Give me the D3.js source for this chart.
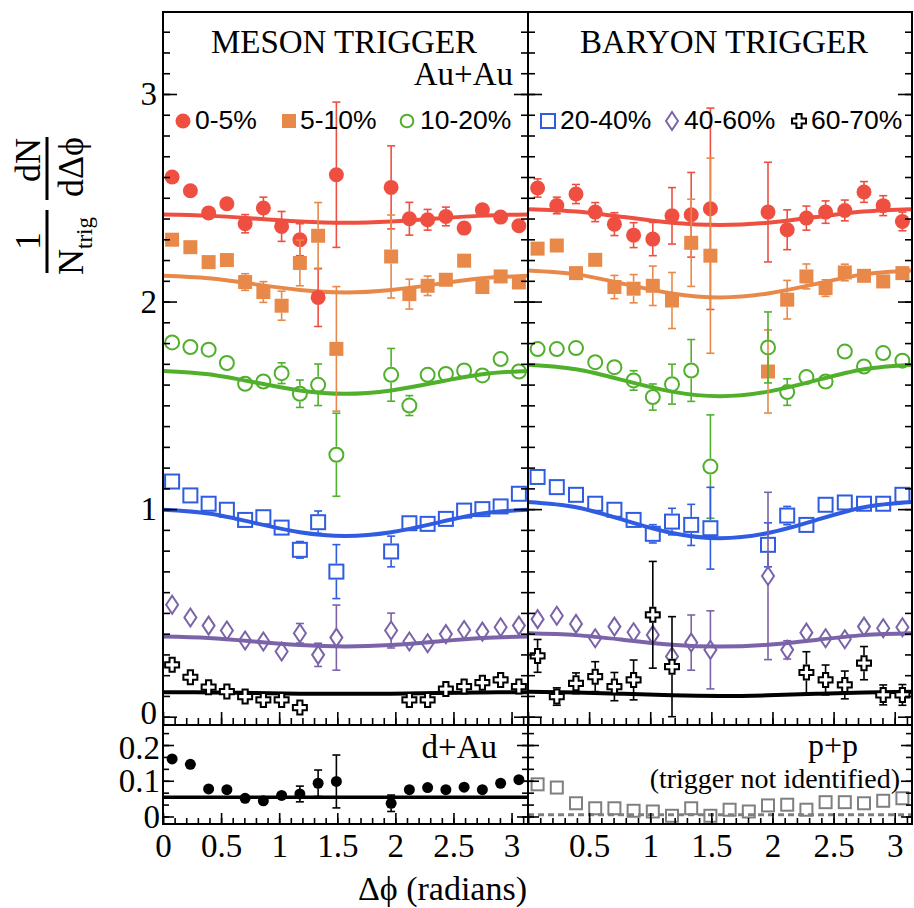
<!DOCTYPE html>
<html><head><meta charset="utf-8">
<script src="https://cdn.jsdelivr.net/npm/d3@7"></script>
<style>body{margin:0;background:#fff}</style>
</head><body><script>
// ---------------- DATA ----------------
const binCenters = [0.0785,0.2356,0.3927,0.5498,0.7069,0.8639,1.0210,1.1781,1.3352,1.4923,1.6493,1.8064,1.9635,2.1206,2.2777,2.4347,2.5918,2.7489,2.9060,3.0631];
const fitX = [0,0.3927,0.7854,1.1781,1.5708,1.9635,2.3562,2.7489,3.1416];

// MESON TRIGGER (Au+Au)
const m05   = [2.600,2.534,2.427,2.471,2.375,2.451,2.362,2.298,2.020,2.611,null,null,2.550,2.399,2.394,2.410,2.354,2.442,2.407,2.365];
const m05e  = [0,0,0,0,0.044,0.052,0.072,0.077,0.14,0.35,null,null,0.2,0.079,0.05,0.045,0,0,0,0];
const m510  = [2.298,2.262,2.190,2.200,2.094,2.046,1.980,2.186,2.317,1.772,null,null,2.217,2.036,2.076,2.105,2.197,2.070,2.121,2.092];
const m510e = [0,0,0,0,0.04,0.05,0.07,0.11,0.16,0.30,null,null,0.2,0.072,0.047,0.02,0,0,0,0];
const m1020 = [1.803,1.781,1.768,1.704,1.604,1.615,1.655,1.556,1.599,1.262,null,null,1.647,1.499,1.647,1.651,1.668,1.644,1.723,1.663];
const m1020e= [0,0,0,0,0,0,0.05,0.066,0.1,0.2,null,null,0.127,0.048,0,0,0,0,0,0];
const m2040 = [1.133,1.066,1.026,0.997,0.948,0.961,0.911,0.804,0.937,0.699,null,null,0.796,0.932,0.929,0.953,0.993,1.000,1.013,1.074];
const m2040e= [0,0,0,0,0,0,0,0.04,0.054,0.13,null,null,0.074,0,0,0,0,0,0,0];
const m4060 = [0.539,0.478,0.439,0.415,0.367,0.362,0.314,0.402,0.298,0.381,null,null,0.415,0.362,0.354,0.398,0.418,0.410,0.431,0.439];
const m4060e= [0,0,0,0,0,0,0,0.047,0.056,0.157,null,null,0.084,0,0,0,0,0,0,0];
const m6070 = [0.250,0.190,0.142,0.121,0.097,0.081,0.081,0.044,null,null,null,null,null,0.081,0.081,0.133,0.145,0.164,0.177,0.145];
const m6070e= [0,0,0,0,0,0,0,0,null,null,null,null,null,0,0,0,0,0,0,0];
const mFit05   = [2.420,2.414,2.400,2.386,2.380,2.386,2.400,2.414,2.420];
const mFit510  = [2.124,2.112,2.084,2.056,2.044,2.056,2.084,2.112,2.124];
const mFit1020 = [1.666,1.650,1.611,1.572,1.556,1.572,1.611,1.650,1.666];
const mFit2040 = [0.997,0.979,0.934,0.889,0.871,0.889,0.934,0.979,0.997];
const mFit4060 = [0.386,0.379,0.362,0.345,0.338,0.345,0.362,0.379,0.386];
const mFit6070 = [0.118,0.117,0.114,0.111,0.110,0.111,0.114,0.117,0.118];

// BARYON TRIGGER (Au+Au)
const b05   = [2.547,2.463,2.518,2.431,2.373,2.320,2.301,2.413,2.418,2.447,null,null,2.431,2.346,2.402,2.431,2.439,2.528,2.462,2.386];
const b05e  = [0.044,0.04,0.046,0.046,0.055,0.06,0.08,0.136,0.204,0.485,null,null,0.24,0.096,0.058,0.054,0.05,0.05,0.048,0.045];
const b510  = [2.255,2.270,2.137,2.201,2.070,2.062,2.076,2.005,2.283,2.221,null,null,1.663,2.009,2.121,2.065,2.140,2.124,2.097,2.137];
const b510e = [0.02,0.02,0.03,0.03,0.056,0.068,0.095,0.135,0.21,0.47,null,null,0.2,0.093,0.06,0.04,0.04,0.03,0.03,0.03];
const b1020 = [1.771,1.771,1.776,1.708,1.684,1.620,1.540,1.602,1.668,1.205,null,null,1.779,1.564,1.636,1.615,1.759,1.687,1.752,1.715];
const b1020e= [0,0,0,0,0,0.047,0.063,0.096,0.149,0.249,null,null,0.171,0.064,0.02,0,0,0,0,0];
const b2040 = [1.155,1.106,1.069,1.026,0.997,0.948,0.881,0.940,0.924,0.908,null,null,0.828,0.969,0.924,1.021,1.032,1.026,1.026,1.069];
const b2040e= [0,0,0,0,0,0,0.044,0.064,0.099,0.197,null,null,0.106,0.044,0,0,0,0,0,0];
const b4060 = [0.470,0.486,0.447,0.378,0.434,0.407,0.394,0.290,0.357,0.322,null,null,0.678,0.322,0.405,0.378,0.373,0.434,0.426,0.431];
const b4060e= [0,0,0,0,0,0,0,0,0.133,0.188,null,null,0.403,0.044,0,0,0,0,0,0];
const b6070 = [0.293,0.097,0.161,0.193,0.145,0.177,0.491,0.241,null,null,null,null,null,null,0.213,0.177,0.153,0.258,0.105,0.105];
const b6070e= [0.079,0.042,0.05,0.072,0.068,0.096,0.257,0.241,null,null,null,null,null,null,0.1,0.072,0.067,0.08,0.048,0.05];
const bFit05   = [2.445,2.434,2.407,2.380,2.369,2.380,2.407,2.434,2.445];
const bFit510  = [2.150,2.131,2.085,2.039,2.020,2.039,2.085,2.131,2.150];
const bFit1020 = [1.696,1.674,1.620,1.566,1.544,1.566,1.620,1.674,1.696];
const bFit2040 = [1.034,1.009,0.947,0.885,0.860,0.885,0.947,1.009,1.034];
const bFit4060 = [0.402,0.393,0.370,0.347,0.338,0.347,0.370,0.393,0.402];
const bFit6070 = [0.120,0.117,0.110,0.103,0.100,0.103,0.110,0.117,0.120];

// d+Au and p+p
const dAu    = [0.161,0.146,0.077,0.075,0.051,0.044,0.059,0.063,0.093,0.098,null,null,0.037,0.075,0.081,0.075,0.082,0.075,0.093,0.103];
const dAuErr = [0,0,0,0,0,0,0,0.022,0.037,0.074,null,null,0.023,0,0,0,0,0,0,0];
const dAuFitX = [0, 3.1416];
const dAuFit  = [0.054, 0.054];
const pp     = [0.090,0.081,0.037,0.023,0.023,0.016,0.014,0.002,0.023,0.002,0.019,0.014,0.031,0.033,0.019,0.040,0.040,0.037,0.044,0.051];
const ppFitX = [0, 3.1416];
const ppFit  = [0.005, 0.005];

const centralities = ["0-5%","5-10%","10-20%","20-40%","40-60%","60-70%"];
const xTickLabels = [0,0.5,1,1.5,2,2.5,3];
const yTopTickLabels = [0,1,2,3];
const yBotTickLabels = [0,0.1,0.2];

// ---------------- STYLE ----------------
const RED="#ee4f40", ORANGE="#e8894a", GREEN="#50b02c", BLUE="#2f5ce0", PURPLE="#7a63a8", BLACK="#000", GREY="#7f7f7f";
const colors=[RED,ORANGE,GREEN,BLUE,PURPLE,BLACK];
const markers=["circle","square","ocircle","osquare","diamond","cross"];
const SERIF="'Liberation Serif','Times New Roman',serif";
const SANS="'Liberation Sans',Arial,Helvetica,sans-serif";

const W=914,H=908;
const svg=d3.select("body").append("svg").attr("width",W).attr("height",H).style("display","block");
svg.append("rect").attr("width",W).attr("height",H).attr("fill","#fff");

const PL=163, PM=528, PR=912, PT=12, PB=725, PBB=824;
const xL=d3.scaleLinear().domain([0,Math.PI]).range([PL,PM]);
const xR=d3.scaleLinear().domain([0,Math.PI]).range([PM,PR]);
const yT=d3.scaleLinear().domain([-0.04,3.395]).range([PB,PT]);
const yB=d3.scaleLinear().domain([-0.021,0.256]).range([PBB,PB]);

const mesonSeries=[[m05,m05e,mFit05],[m510,m510e,mFit510],[m1020,m1020e,mFit1020],[m2040,m2040e,mFit2040],[m4060,m4060e,mFit4060],[m6070,m6070e,mFit6070]];
const baryonSeries=[[b05,b05e,bFit05],[b510,b510e,bFit510],[b1020,b1020e,bFit1020],[b2040,b2040e,bFit2040],[b4060,b4060e,bFit4060],[b6070,b6070e,bFit6070]];

function drawMarker(g,type,color,cx,cy,scale=1){
  let el;
  if(type==="circle"){ el=g.append("circle").attr("r",7.5*scale).attr("fill",color); }
  else if(type==="square"){ const s=14*scale; el=g.append("rect").attr("x",-s/2).attr("y",-s/2).attr("width",s).attr("height",s).attr("fill",color); }
  else if(type==="ocircle"){ el=g.append("circle").attr("r",7*scale).attr("fill","none").attr("stroke",color).attr("stroke-width",2); }
  else if(type==="osquare"){ const s=14*scale; el=g.append("rect").attr("x",-s/2).attr("y",-s/2).attr("width",s).attr("height",s).attr("fill","none").attr("stroke",color).attr("stroke-width",2); }
  else if(type==="diamond"){ const w=6*scale,h=9*scale; el=g.append("path").attr("d",`M0,${-h}L${w},0L0,${h}L${-w},0Z`).attr("fill","none").attr("stroke",color).attr("stroke-width",2); }
  else if(type==="cross"){ const a=2.6*scale,h=7*scale; el=g.append("path").attr("d",`M${-a},${-h}L${a},${-h}L${a},${-a}L${h},${-a}L${h},${a}L${a},${a}L${a},${h}L${-a},${h}L${-a},${a}L${-h},${a}L${-h},${-a}L${-a},${-a}Z`).attr("fill","#fff").attr("stroke",color).attr("stroke-width",2); }
  else if(type==="dot"){ el=g.append("circle").attr("r",5.5*scale).attr("fill",color); }
  else if(type==="gsquare"){ const s=12*scale; el=g.append("rect").attr("x",-s/2).attr("y",-s/2).attr("width",s).attr("height",s).attr("fill","none").attr("stroke",color).attr("stroke-width",2); }
  el.attr("transform",`translate(${cx},${cy})`);
}
const halfSize={circle:7,square:7,ocircle:8,osquare:8,diamond:9,cross:8,dot:5,gsquare:7};

function drawSeries(g,xs,ys,vals,errs,color,type){
  const eg=g.append("g").attr("stroke",color).attr("stroke-width",1.6);
  vals.forEach((v,i)=>{
    if(v==null) return;
    const e=errs?errs[i]:0;
    if(!e) return;
    const cx=xs(binCenters[i]), cy=ys(v), yt=ys(v+e), yb=ys(v-e), h=halfSize[type];
    if(cy-yt<=h) return;
    eg.append("line").attr("x1",cx).attr("x2",cx).attr("y1",yt).attr("y2",cy-h);
    eg.append("line").attr("x1",cx).attr("x2",cx).attr("y1",cy+h).attr("y2",yb);
    eg.append("line").attr("x1",cx-4).attr("x2",cx+4).attr("y1",yt).attr("y2",yt);
    eg.append("line").attr("x1",cx-4).attr("x2",cx+4).attr("y1",yb).attr("y2",yb);
  });
  vals.forEach((v,i)=>{ if(v==null) return; drawMarker(g,type,color,xs(binCenters[i]),ys(v)); });
}
function drawFit(g,xs,ys,fx,fy,color,w,dash){
  const line=d3.line().x((d,i)=>xs(fx[i])).y(d=>ys(d)).curve(fx.length>2?d3.curveNatural:d3.curveLinear);
  const p=g.append("path").attr("d",line(fy)).attr("fill","none").attr("stroke",color).attr("stroke-width",w);
  if(dash) p.attr("stroke-dasharray",dash);
}

// clip paths
const defs=svg.append("defs");
defs.append("clipPath").attr("id","cL").append("rect").attr("x",PL).attr("y",PT).attr("width",PM-PL).attr("height",PBB-PT);
defs.append("clipPath").attr("id","cR").append("rect").attr("x",PM).attr("y",PT).attr("width",PR-PM).attr("height",PBB-PT);

// ---------- Top panels ----------
[[xL,mesonSeries,"cL"],[xR,baryonSeries,"cR"]].forEach(([xs,ser,clip])=>{
  const g=svg.append("g").attr("clip-path",`url(#${clip})`);
  ser.forEach((s,k)=>drawFit(g,xs,yT,fitX,s[2],colors[k],4));
  ser.forEach((s,k)=>drawSeries(g,xs,yT,s[0],s[1],colors[k],markers[k]));
});
// ---------- Bottom panels ----------
{
  const g=svg.append("g").attr("clip-path","url(#cL)");
  drawFit(g,xL,yB,dAuFitX,dAuFit,BLACK,3.5);
  drawSeries(g,xL,yB,dAu,dAuErr,BLACK,"dot");
  const g2=svg.append("g").attr("clip-path","url(#cR)");
  drawFit(g2,xR,yB,ppFitX,ppFit,GREY,3,"6,4");
  drawSeries(g2,xR,yB,pp,null,GREY,"gsquare");
}

// ---------- Axes / ticks ----------
function tickAxis(fn,scale,values,size,tx,ty){
  const a=svg.append("g").attr("transform",`translate(${tx},${ty})`)
    .call(fn(scale).tickValues(values).tickSizeInner(size).tickSizeOuter(0).tickFormat(""));
  a.select(".domain").remove();
  a.selectAll("line").attr("stroke","#000").attr("stroke-width",1.6);
}
const xMinor=d3.range(0,32).map(k=>k/10);
const xMajor=[0,0.5,1,1.5,2,2.5,3];
const yTMinor=d3.range(0,34).map(k=>k/10);
const yTMajor=[0,1,2,3];
const yBMinor=d3.range(0,8).map(k=>k*0.1/3);
const yBMajor=[0,0.1,0.2];
[xL,xR].forEach(xs=>{
  tickAxis(d3.axisBottom,xs,xMinor,-7,0,PB);
  tickAxis(d3.axisBottom,xs,xMajor,-13,0,PB);
  tickAxis(d3.axisBottom,xs,xMinor,-6,0,PBB);
  tickAxis(d3.axisBottom,xs,xMajor,-11,0,PBB);
});
[[d3.axisLeft,PL],[d3.axisRight,PM],[d3.axisLeft,PM],[d3.axisRight,PR]].forEach(([fn,x])=>{
  tickAxis(fn,yT,yTMinor,-7,x,0);
  tickAxis(fn,yT,yTMajor,-14,x,0);
  tickAxis(fn,yB,yBMinor,-6,x,0);
  tickAxis(fn,yB,yBMajor,-11,x,0);
});

// tick labels
function labelAxis(fn,scale,values,pad,tx,ty,size){
  const a=svg.append("g").attr("transform",`translate(${tx},${ty})`)
    .call(fn(scale).tickValues(values).tickSize(0).tickPadding(pad).tickFormat(d=>String(d)));
  a.select(".domain").remove();
  a.selectAll("text").attr("font-family",SERIF).attr("font-size",size).attr("fill","#000");
  return a;
}
const yTopLab=labelAxis(d3.axisLeft,yT,yTopTickLabels,6,PL,0,33);
yTopLab.selectAll(".tick").filter(d=>d===0).select("text").attr("dy","0.2em");
const yBotLab=labelAxis(d3.axisLeft,yB,yBotTickLabels,3,PL,0,33);
yBotLab.selectAll(".tick").filter(d=>d===0.2).select("text").attr("dy","0.4em");
labelAxis(d3.axisBottom,xL,xTickLabels,10,0,PBB,33);
labelAxis(d3.axisBottom,xR,xTickLabels.filter(d=>d>0),10,0,PBB,33);

// frames
const frame=svg.append("g").attr("fill","none").attr("stroke","#000").attr("stroke-width",2);
frame.append("rect").attr("x",PL).attr("y",PT).attr("width",PR-PL).attr("height",PBB-PT);
frame.append("line").attr("x1",PM).attr("x2",PM).attr("y1",PT).attr("y2",PBB);
frame.append("line").attr("x1",PL).attr("x2",PR).attr("y1",PB).attr("y2",PB);

// ---------- Texts ----------
function txt(x,y,s,size,anchor,font){
  return svg.append("text").attr("x",x).attr("y",y).attr("font-family",font||SERIF).attr("font-size",size).attr("text-anchor",anchor||"start").attr("fill","#000").text(s);
}
txt(344,53,"MESON TRIGGER",33,"middle");
txt(724,53,"BARYON TRIGGER",33,"middle");
txt(513,85,"Au+Au",33,"end");
txt(497,758,"d+Au",33,"end");
txt(858,756,"p+p",32,"end");
txt(900,788,"(trigger not identified)",28,"end");
txt(527,900,"Δϕ (radians)",34,"end");

// legends
const legPos=[[183,195],[289,300],[407,420],[548,560],[672,684],[799,811]];
centralities.forEach((c,k)=>{
  const [mx,tx]=legPos[k];
  drawMarker(svg,markers[k],colors[k],mx,121,k===2?0.9:1);
  txt(tx,129,c,26.5,"start",SANS);
});

// y-axis title
const yt=svg.append("g").attr("transform","translate(47,205) rotate(-90)").attr("font-family",SERIF).attr("font-size",36).attr("fill","#000");
yt.append("line").attr("x1",-5).attr("x2",-68).attr("y1",0).attr("y2",0).attr("stroke","#000").attr("stroke-width",3);
yt.append("line").attr("x1",5).attr("x2",68).attr("y1",0).attr("y2",0).attr("stroke","#000").attr("stroke-width",3);
yt.append("text").attr("x",-36).attr("y",-7).attr("text-anchor","middle").text("1");
const nt=yt.append("text").attr("x",-41).attr("y",36).attr("text-anchor","middle");
nt.append("tspan").text("N");
nt.append("tspan").attr("font-size",23).attr("dy",9).text("trig");
yt.append("text").attr("x",45).attr("y",-7).attr("text-anchor","middle").text("dN");
yt.append("text").attr("x",38).attr("y",36).attr("text-anchor","middle").text("dΔϕ");
</script></body></html>
